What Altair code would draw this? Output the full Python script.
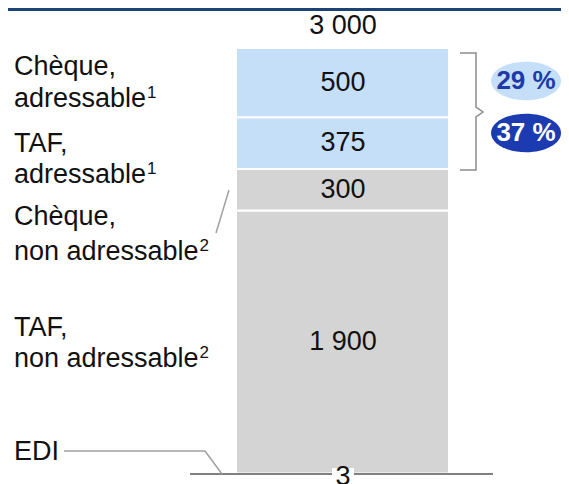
import altair as alt
import pandas as pd

# ---------------- data ----------------
segments = ["EDI", "TAF, non adressable", "Chèque, non adressable", "TAF, adressable", "Chèque, adressable"]
values = [3, 1900, 300, 375, 500]
value_labels = ["3", "1 900", "300", "375", "500"]
addressable = ["non", "non", "non", "adr", "adr"]
total_label = "3 000"
left_lines = [["EDI"], ["TAF,", "non adressable"], ["Chèque,", "non adressable"], ["TAF,", "adressable"], ["Chèque,", "adressable"]]
left_notes = ["", "2", "2", "1", "1"]
share_labels = ["29 %", "37 %"]

# ---------------- layout ----------------
FONT = "Liberation Sans"
FS = 27
W, H = 553, 476
total = sum(values)
k = (474 - 48) / total                      # px per unit
y_dom = [-(484 - 474) / k, (474 - 8) / k]


def yv(py):  # page y -> value units
    return (474 - py) / k


def xv(px):  # page x -> x units
    return px - 8


# Arial/Liberation advance widths (per 1000 em) for label text measuring
ADV = {"a": 556, "d": 556, "r": 333, "e": 556, "s": 500, "b": 556, "l": 222, "n": 556, "o": 556, " ": 278}


def text_w(t, fs):
    return sum(ADV.get(c, 556) for c in t) * fs / 1000


xs = alt.Scale(domain=[0, W], nice=False, zero=False)
ys = alt.Scale(domain=y_dom, nice=False, zero=False)

BAR_X0, BAR_X1, BAR_XC = xv(236), xv(449), xv(343)

# stacked segments table built from the arrays
rows = []
cum = 0
for s, v, lab, g in zip(segments, values, value_labels, addressable):
    rows.append({"segment": s, "value": v, "label": lab, "grp": g,
                 "y0": cum, "y1": cum + v, "ym": cum + v / 2,
                 "xa": BAR_X0, "xb": BAR_X1, "xc": BAR_XC})
    cum += v
df = pd.DataFrame(rows)
base = alt.Chart(df)

rects = base.mark_rect(stroke="white", strokeWidth=2).encode(
    x=alt.X("xa:Q", scale=xs, axis=None),
    x2="xb:Q",
    y=alt.Y("y0:Q", scale=ys, axis=None),
    y2="y1:Q",
    color=alt.Color("grp:N", scale=alt.Scale(domain=["adr", "non"], range=["#C6DFF9", "#D4D4D4"]), legend=None),
)

value_text = base.transform_filter("datum.value >= 100").mark_text(
    font=FONT, fontSize=FS, color="#111111").encode(
    x="xc:Q", y="ym:Q", text="label:N")

small_bg = base.transform_filter("datum.value < 100").mark_square(
    size=22 * 22, color="white", opacity=1, yOffset=5).encode(
    x="xc:Q", y="y0:Q")

small_text = base.transform_filter("datum.value < 100").mark_text(
    font=FONT, fontSize=FS, color="#111111", dy=3).encode(
    x="xc:Q", y="y0:Q", text="label:N")

# baseline + top rule
rules_df = pd.DataFrame({"xa": [xv(190), 0], "xb": [xv(493), W], "y": [0, yv(9.5)],
                         "c": ["#808080", "#1D4275"], "w": [2, 3]})
rules = alt.Chart(rules_df).mark_rule().encode(
    x="xa:Q", x2="xb:Q", y="y:Q",
    color=alt.Color("c:N", scale=None),
    strokeWidth=alt.StrokeWidth("w:Q", scale=None))

# total label
tot_df = pd.DataFrame({"t": [total_label], "v": [total], "xc": [BAR_XC]})
total_text = alt.Chart(tot_df).mark_text(font=FONT, fontSize=FS, color="#111111", dy=-22).encode(
    x="xc:Q", y="v:Q", text="t:N")

# left labels (baselines in page px), one row per text line
line_baselines = [[460], [336, 367], [225, 260], [152, 183], [75, 107]]
LX = 14
lab_rows, sup_rows = [], []
for lines, bls, note in zip(left_lines, line_baselines, left_notes):
    for t, b in zip(lines, bls):
        lab_rows.append({"t": t, "x": xv(LX), "y": yv(b)})
    if note:
        sup_rows.append({"t": note, "x": xv(LX + text_w(lines[-1], FS) + 1), "y": yv(bls[-1] - 9)})
left_text = alt.Chart(pd.DataFrame(lab_rows)).mark_text(
    font=FONT, fontSize=FS, color="#111111", align="left", baseline="alphabetic").encode(
    x="x:Q", y="y:Q", text="t:N")
sup_text = alt.Chart(pd.DataFrame(sup_rows)).mark_text(
    font=FONT, fontSize=17, color="#111111", align="left", baseline="alphabetic").encode(
    x="x:Q", y="y:Q", text="t:N")

# leader lines + bracket
line_pts = [
    ("cheque", 0, 229, 190), ("cheque", 1, 216, 233),
    ("edi", 0, 64, 451), ("edi", 1, 205, 451), ("edi", 2, 222, 474),
]
lines_df = pd.DataFrame([{"g": g, "o": o, "x": xv(px), "y": yv(py)} for g, o, px, py in line_pts])
leaders = alt.Chart(lines_df).mark_line(color="#A0A0A0", strokeWidth=1.5).encode(
    x="x:Q", y="y:Q", detail="g:N", order="o:Q")

br_pts = [(460, 53), (476, 53), (476, 107), (483, 112), (476, 117), (476, 170), (460, 170)]
br_df = pd.DataFrame([{"o": i, "x": xv(px), "y": yv(py)} for i, (px, py) in enumerate(br_pts)])
bracket = alt.Chart(br_df).mark_line(color="#8C8C8C", strokeWidth=1.5).encode(
    x="x:Q", y="y:Q", order="o:Q")

# share ellipses
ELLIPSE = "M -1 0 A 1 0.55 0 1 1 1 0 A 1 0.55 0 1 1 -1 0 Z"
share_df = pd.DataFrame({"t": share_labels, "x": [xv(526), xv(526)], "y": [yv(81), yv(133)],
                         "fill": ["#C6DFF9", "#1C3BB0"], "tc": ["#1E3AA8", "#FFFFFF"]})
ellipses = alt.Chart(share_df).mark_point(shape=ELLIPSE, filled=True, size=70 * 70, opacity=1, strokeWidth=0).encode(
    x="x:Q", y="y:Q", color=alt.Color("fill:N", scale=None))
share_text = alt.Chart(share_df).mark_text(font=FONT, fontSize=26, fontWeight="bold").encode(
    x="x:Q", y="y:Q", text="t:N", color=alt.Color("tc:N", scale=None))

chart = alt.layer(
    rects, value_text, total_text, rules, small_bg, small_text,
    left_text, sup_text, leaders, bracket, ellipses, share_text,
).properties(
    width=W, height=H, padding=0, autosize=alt.AutoSizeParams(type="none")
).configure_view(strokeWidth=0)

chart.save("out.html", embed_options={"renderer": "svg", "actions": False})
